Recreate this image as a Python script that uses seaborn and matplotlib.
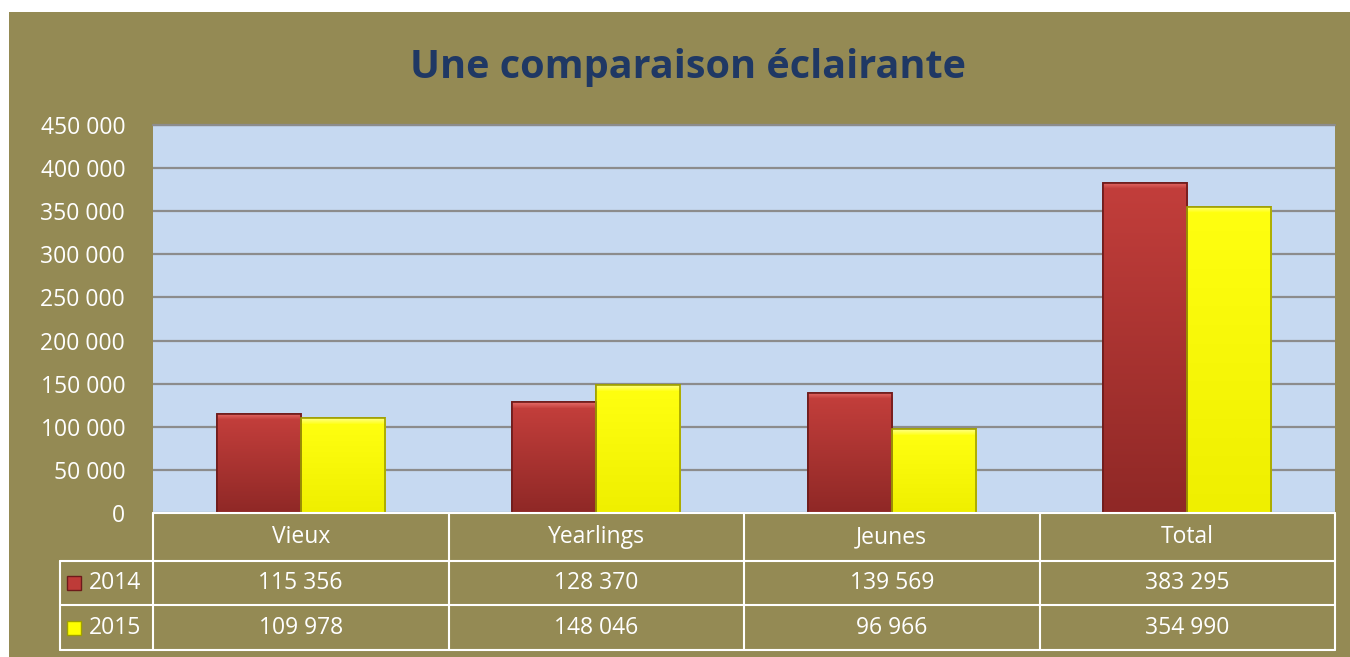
import matplotlib
matplotlib.use("Agg")
import matplotlib.pyplot as plt
import matplotlib.transforms as mtransforms
from matplotlib.patches import Rectangle
from matplotlib.colors import to_rgb
from matplotlib.ticker import FuncFormatter
import numpy as np
import seaborn as sns
import pandas as pd

categories = ["Vieux", "Yearlings", "Jeunes", "Total"]
series_names = ["2014", "2015"]
values_2014 = [115356, 128370, 139569, 383295]
values_2015 = [109978, 148046, 96966, 354990]
title = "Une comparaison éclairante"

OLIVE = "#948A54"
PLOT_BG = "#C6D9F1"
RED = "#BE3B38"
RED_EDGE = "#6E1A1A"
YELLOW = "#FFFF00"
YELLOW_EDGE = "#A0A000"
NAVY = "#1F3864"
FONT = ["Open Sans", "DejaVu Sans"]
FS = 16.5

sns.set_theme(style="white")
plt.rcParams["font.family"] = FONT

df = pd.DataFrame({
    "cat": categories * 2,
    "year": [series_names[0]] * 4 + [series_names[1]] * 4,
    "val": values_2014 + values_2015,
})

W, H = 1350, 657
fig = plt.figure(figsize=(W / 100, H / 100), dpi=100)
fig.patch.set_facecolor("white")
fig.patches.append(Rectangle((9 / W, 0), 1 - 9 / W, 1 - 12 / H, transform=fig.transFigure,
                             facecolor=OLIVE, edgecolor="none", zorder=-10))

L, R, T, B = 153, 1335, 125, 513
ax = fig.add_axes([L / W, 1 - B / H, (R - L) / W, (B - T) / H])
ax.set_facecolor(PLOT_BG)

sns.barplot(data=df, x="cat", y="val", hue="year", order=categories,
            hue_order=series_names, palette=[RED, YELLOW], width=0.57,
            saturation=1, ax=ax, legend=False, zorder=3)

YMAX = 450000
px_per_unit = (B - T) / YMAX

def shade(top_hi, main_top, main_bot, h_px):
    n = max(int(round(h_px)), 2)
    rows = np.zeros((n, 1, 3))
    a, b, c = np.array(to_rgb(top_hi)), np.array(to_rgb(main_top)), np.array(to_rgb(main_bot))
    band = 6
    for r in range(n):
        if r < band:
            t = r / band
            rows[r, 0] = a * (1 - t) + b * t
        else:
            t = (r - band) / max(n - band - 1, 1)
            rows[r, 0] = b * (1 - t) + c * t
    return rows

for i, p in enumerate(list(ax.patches)):
    is_red = i < len(categories)
    p.set_edgecolor(RED_EDGE if is_red else YELLOW_EDGE)
    p.set_linewidth(1.2)
    x0, w, h = p.get_x(), p.get_width(), p.get_height()
    hpx = h * px_per_unit
    if is_red:
        img = shade("#E46A66", "#C23E3B", "#8F2826", hpx)
    else:
        img = shade("#FFFF80", "#FFFF10", "#EFEF00", hpx)
    im = ax.imshow(img, extent=(x0, x0 + w, 0, h), aspect="auto", origin="upper",
                   zorder=3.5, interpolation="bilinear")
    im.set_clip_path(p)
    # redraw the edge over the image
    ax.add_patch(Rectangle((x0, 0), w, h, facecolor="none",
                           edgecolor=RED_EDGE if is_red else YELLOW_EDGE, lw=1.2, zorder=4))

ax.set_xlim(-0.5, len(categories) - 0.5)
ax.set_ylim(0, YMAX)
ax.set_yticks(range(0, YMAX + 1, 50000))
ax.yaxis.set_major_formatter(FuncFormatter(lambda v, _: f"{int(v):,}".replace(",", " ")))
ax.grid(axis="y", color="#8C8C8C", linewidth=1.6, zorder=0)
ax.set_axisbelow(True)
ax.set_xticks([])
ax.set_xlabel("")
ax.set_ylabel("")
ax.tick_params(axis="y", length=0, labelsize=FS, labelcolor="white", pad=20)
for sname, sp in ax.spines.items():
    sp.set_visible(False)
ax.plot([0, 1], [1, 1], transform=ax.transAxes, color="#8C8C8C", lw=1.6, clip_on=False, zorder=1)

# data table under the axes
bt = mtransforms.blended_transform_factory(ax.transData, ax.transAxes)
ah = B - T
y0 = 0.0
y1 = -(561 - B) / ah
y2 = -(605 - B) / ah
y3 = -(650 - B) / ah
xl = (60 - L) / (R - L)
lw = 1.5
n = len(categories)
edges = [i - 0.5 for i in range(n + 1)]

ax.plot([-0.5, n - 0.5], [y0, y0], transform=bt, color="white", lw=lw, clip_on=False, zorder=5)
for yy in (y1, y2, y3):
    ax.plot([xl, 1], [yy, yy], transform=ax.transAxes, color="white", lw=lw, clip_on=False)
for e in edges:
    ax.plot([e, e], [y0, y3], transform=bt, color="white", lw=lw, clip_on=False)
ax.plot([xl, xl], [y1, y3], transform=ax.transAxes, color="white", lw=lw, clip_on=False)

fmt = lambda v: f"{v:,}".replace(",", " ")
for i, c in enumerate(categories):
    ax.text(i, (y0 + y1) / 2, c, transform=bt, ha="center", va="center",
            color="white", fontsize=FS)
    ax.text(i, (y1 + y2) / 2, fmt(values_2014[i]), transform=bt, ha="center",
            va="center", color="white", fontsize=FS)
    ax.text(i, (y2 + y3) / 2, fmt(values_2015[i]), transform=bt, ha="center",
            va="center", color="white", fontsize=FS)

for (yy_a, yy_b), name, fc, ec in [((y1, y2), series_names[0], RED, RED_EDGE),
                                   ((y2, y3), series_names[1], YELLOW, YELLOW_EDGE)]:
    ym = (yy_a + yy_b) / 2
    sq_w = 14 / (R - L)
    sq_h = 14 / ah
    xs = (67 - L) / (R - L)
    ax.add_patch(Rectangle((xs, ym - sq_h / 2), sq_w, sq_h, transform=ax.transAxes,
                           facecolor=fc, edgecolor=ec, lw=1, clip_on=False))
    ax.text((89 - L) / (R - L), ym, name, transform=ax.transAxes, ha="left",
            va="center", color="white", fontsize=FS)

fig.text(688 / W, 1 - 78 / H, title, ha="center", va="baseline", color=NAVY,
         fontsize=28.5, fontweight="bold")

fig.savefig("out.png", dpi=100, facecolor=fig.get_facecolor())
